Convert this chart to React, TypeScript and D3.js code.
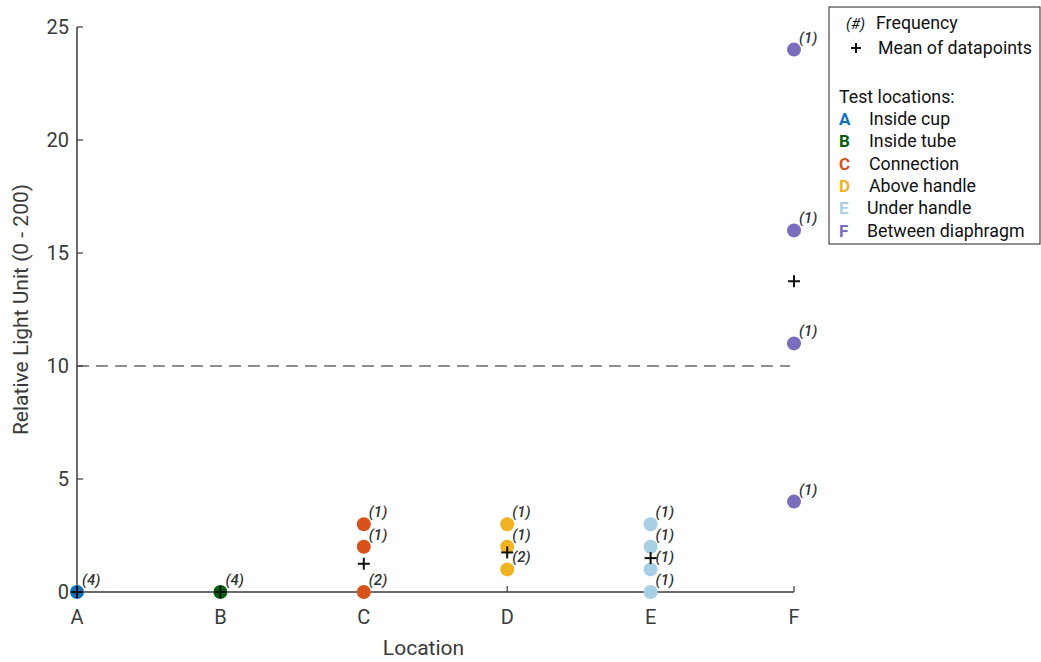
import React from "react";
import * as d3 from "d3";

const locations = ["A", "B", "C", "D", "E", "F"];
const locationNames = ["Inside cup", "Inside tube", "Connection", "Above handle", "Under handle", "Between diaphragm"];
const colors = ["#0f6fb8", "#0b5e0b", "#d8531c", "#efb324", "#a7d0e6", "#7b6cbd"];

// unique values per location, with frequency of each
const pointValues = [[0], [0], [3, 2, 0], [3, 2, 1], [3, 2, 1, 0], [24, 16, 11, 4]];
const pointCounts = [[4], [4], [1, 1, 2], [1, 1, 2], [1, 1, 1, 1], [1, 1, 1, 1]];
const yTicks = [0, 5, 10, 15, 20, 25];
const threshold = 10;

const W = 1041;
const H = 662;
const margin = { left: 77, right: 247, top: 27, bottom: 70 };

export default function App() {
  const x = d3
    .scalePoint<string>()
    .domain(locations)
    .range([margin.left, W - margin.right]);
  const y = d3
    .scaleLinear()
    .domain([0, 25])
    .range([H - margin.bottom, margin.top]);

  const means = pointValues.map((vals, i) => {
    let sum = 0;
    let n = 0;
    vals.forEach((v, j) => {
      sum += v * pointCounts[i][j];
      n += pointCounts[i][j];
    });
    return sum / n;
  });

  const axisColor = "#3a3a3a";
  const font = "Roboto, 'Liberation Sans', sans-serif";
  const x0 = margin.left;
  const x1 = W - margin.right;
  const y0 = y(0);

  return (
    <svg width={W} height={H} style={{ position: "absolute", left: 0, top: 0, background: "#fff" }} fontFamily={font}>
      {/* threshold line */}
      <line x1={x0} x2={x1 - 4} y1={y(threshold)} y2={y(threshold)} stroke="#6b6b6b" strokeWidth={1.5} strokeDasharray="12,7" />

      {/* axes */}
      <line x1={x0} x2={x0} y1={y(25)} y2={y0} stroke={axisColor} strokeWidth={1.5} />
      <line x1={x0} x2={x1} y1={y0} y2={y0} stroke={axisColor} strokeWidth={1.5} />
      {yTicks.map((t) => (
        <g key={t}>
          <line x1={x0} x2={x0 + 6} y1={y(t)} y2={y(t)} stroke={axisColor} strokeWidth={1.2} />
          <text x={x0 - 8} y={y(t)} dy="0.36em" textAnchor="end" fontSize={20} fill={axisColor}>
            {t}
          </text>
        </g>
      ))}
      {locations.map((l) => (
        <g key={l}>
          <line x1={x(l)} x2={x(l)} y1={y0} y2={y0 - 6} stroke={axisColor} strokeWidth={1.2} />
          <text x={x(l)} y={y0 + 32} textAnchor="middle" fontSize={20} fill={axisColor}>
            {l}
          </text>
        </g>
      ))}
      <text x={(x0 + x1) / 2 - 12} y={H - 7} textAnchor="middle" fontSize={21} fill={axisColor}>
        Location
      </text>
      <text
        transform={`translate(28,${(y(25) + y0) / 2}) rotate(-90)`}
        textAnchor="middle"
        fontSize={21}
        fill={axisColor}
      >
        Relative Light Unit (0 - 200)
      </text>

      {/* points */}
      {pointValues.map((vals, i) =>
        vals.map((v, j) => (
          <g key={`${i}-${j}`}>
            <circle cx={x(locations[i])} cy={y(v)} r={7} fill={colors[i]} />
            <text
              x={(x(locations[i]) as number) + 5}
              y={y(v) - 7}
              fontSize={15}
              fontStyle="italic"
              fontWeight={500}
              fill="#333"
            >
              ({pointCounts[i][j]})
            </text>
          </g>
        ))
      )}

      {/* means */}
      {means.map((m, i) => {
        const cx = x(locations[i]) as number;
        const cy = y(m);
        return (
          <g key={`m${i}`} stroke="#111" strokeWidth={2}>
            <line x1={cx - 6} x2={cx + 6} y1={cy} y2={cy} />
            <line x1={cx} x2={cx} y1={cy - 6} y2={cy + 6} />
          </g>
        );
      })}

      {/* legend */}
      <g transform="translate(829,7)">
        <rect x={0} y={0} width={211} height={237} fill="#fff" stroke="#222" strokeWidth={1} />
        <text x={17} y={22} fontSize={15} fontStyle="italic" fill="#111">(#)</text>
        <text x={47} y={22} fontSize={17.8} fill="#111">Frequency</text>
        <g stroke="#111" strokeWidth={2}>
          <line x1={22} x2={32} y1={41} y2={41} />
          <line x1={27} x2={27} y1={36} y2={46} />
        </g>
        <text x={49} y={47} fontSize={17.8} fill="#111">Mean of datapoints</text>
        <text x={10} y={96} fontSize={17.8} fill="#111">Test locations:</text>
        {locations.map((l, i) => (
          <g key={l}>
            <text x={10} y={118 + i * 22.3} fontSize={17} fontWeight="bold" fill={colors[i]}>
              {l}
            </text>
            <text x={i >= 4 ? 38 : 40} y={118 + i * 22.3} fontSize={17.8} fill="#111">
              {locationNames[i]}
            </text>
          </g>
        ))}
      </g>
    </svg>
  );
}
